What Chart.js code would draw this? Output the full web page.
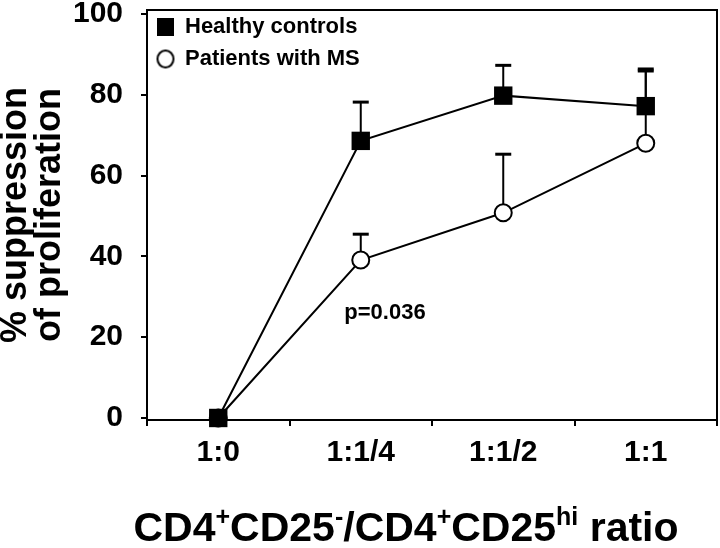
<!DOCTYPE html>
<html>
<head>
<meta charset="utf-8">
<script src="https://cdn.jsdelivr.net/npm/chart.js@4"></script>
<style>
  html, body { margin: 0; padding: 0; background: #fff; }
  #wrap { width: 720px; height: 548px; position: relative; }
</style>
</head>
<body>
<div id="wrap"><canvas id="c" width="720" height="548"></canvas></div>
<script>
// ---- data ----
const categories = ['1:0', '1:1/4', '1:1/2', '1:1'];
const healthy = [0, 68.6, 79.8, 77.2];
const healthyErr = [0, 9.6, 7.5, 9.2];
const ms = [0, 39.1, 50.8, 68.0];
const msErr = [0, 6.4, 14.5, 17.9];
const yTicks = [0, 20, 40, 60, 80, 100];
const seriesNames = ['Healthy controls', 'Patients with MS'];
const pValueText = 'p=0.036';
const xTitleParts = [['CD4', 0], ['+', 1], ['CD25', 0], ['-', 1], ['/CD4', 0], ['+', 1], ['CD25', 0], ['hi', 1], [' ratio', 0]];
const yTitle = ['% suppression', 'of proliferation'];

const FONT = "'Liberation Sans', Arial, Helvetica, sans-serif";

// legend glyph canvases
function makeSquare() {
  const c = document.createElement('canvas'); c.width = 17; c.height = 18;
  const g = c.getContext('2d'); g.fillStyle = '#000'; g.fillRect(0, 0, 17, 18); return c;
}
function makeCircle() {
  const c = document.createElement('canvas'); c.width = 20; c.height = 21;
  const g = c.getContext('2d'); g.beginPath(); g.ellipse(10, 10.5, 8, 8.5, 0, 0, Math.PI * 2);
  g.fillStyle = '#fff'; g.fill(); g.lineWidth = 2; g.strokeStyle = '#000'; g.stroke(); return c;
}
const legendGlyphs = [makeSquare(), makeCircle()];

const errorBars = {
  id: 'errorBars',
  beforeDatasetsDraw(chart) {
    const ctx = chart.ctx, y = chart.scales.y;
    const errs = [healthyErr, msErr];
    ctx.save();
    ctx.strokeStyle = '#000';
    chart.data.datasets.forEach((ds, i) => {
      const meta = chart.getDatasetMeta(i);
      ds.data.forEach((v, j) => {
        const e = errs[i][j];
        if (!e) return;
        const px = meta.data[j].x;
        const y0 = y.getPixelForValue(v), y1 = y.getPixelForValue(v + e);
        ctx.lineWidth = 2;
        ctx.beginPath(); ctx.moveTo(px, y0); ctx.lineTo(px, y1); ctx.stroke();
        ctx.lineWidth = 3;
        ctx.beginPath(); ctx.moveTo(px - 8, y1); ctx.lineTo(px + 8, y1); ctx.stroke();
      });
    });
    ctx.restore();
  }
};

const frameAndText = {
  id: 'frameAndText',
  afterDraw(chart) {
    const ctx = chart.ctx;
    const xs = chart.scales.x, ys = chart.scales.y;
    const top = ys.getPixelForValue(ys.max), bottom = ys.getPixelForValue(ys.min);
    ctx.save();
    ctx.strokeStyle = '#000'; ctx.lineWidth = 2;
    ctx.beginPath();
    ctx.moveTo(xs.left, top); ctx.lineTo(xs.right, top); ctx.lineTo(xs.right, bottom);
    ctx.stroke();
    // p-value annotation
    ctx.fillStyle = '#000';
    ctx.font = 'bold 22px ' + FONT;
    ctx.textAlign = 'center'; ctx.textBaseline = 'alphabetic';
    ctx.fillText(pValueText, xs.getPixelForValue(1.17), ys.getPixelForValue(24.5));
    // x-axis title with superscripts
    const big = 'bold 41px ' + FONT, small = 'bold 25px ' + FONT;
    let total = 0;
    xTitleParts.forEach(([t, s]) => { ctx.font = s ? small : big; total += ctx.measureText(t).width; });
    let x = 406 - total / 2;
    const base = 541;
    ctx.textAlign = 'left';
    xTitleParts.forEach(([t, s]) => {
      ctx.font = s ? small : big;
      ctx.fillText(t, x, s ? base - 16 : base);
      x += ctx.measureText(t).width;
    });
    ctx.restore();
  }
};

new Chart(document.getElementById('c'), {
  type: 'line',
  data: {
    labels: categories,
    datasets: [
      {
        label: seriesNames[0], data: healthy,
        borderColor: '#000', borderWidth: 2, tension: 0,
        pointStyle: 'rect', pointRadius: 13, pointBackgroundColor: '#000',
        pointBorderColor: '#000', pointBorderWidth: 0, clip: false
      },
      {
        label: seriesNames[1], data: ms,
        borderColor: '#000', borderWidth: 2, tension: 0,
        pointStyle: 'circle', pointRadius: 8.5, pointBackgroundColor: '#fff',
        pointBorderColor: '#000', pointBorderWidth: 2, clip: false
      }
    ]
  },
  options: {
    responsive: false,
    animation: false,
    events: [],
    layout: { autoPadding: false, padding: { top: 10, right: 3, left: 0, bottom: 0 } },
    plugins: {
      tooltip: { enabled: false },
      legend: {
        position: 'chartArea',
        fullSize: false,
        align: 'start',
        title: { display: true, text: '', padding: 0, font: { size: 5, lineHeight: 1.2 } },
        labels: {
          usePointStyle: true,
          boxWidth: 17, boxHeight: 17,
          padding: 10,
          color: '#000',
          font: { family: FONT, size: 22, weight: 'bold' },
          generateLabels(chart) {
            return chart.data.datasets.map((ds, i) => ({
              text: ds.label, pointStyle: legendGlyphs[i], fillStyle: '#000',
              strokeStyle: '#000', lineWidth: 0, hidden: false, datasetIndex: i, fontColor: '#000'
            }));
          }
        }
      }
    },
    scales: {
      x: {
        type: 'category',
        offset: true,
        grid: { offset: true, drawOnChartArea: false, color: '#000', lineWidth: 2, tickLength: 6 },
        border: { color: '#000', width: 2 },
        ticks: { color: '#000', padding: 9, font: { family: FONT, size: 30, weight: 'bold' }, maxRotation: 0 },
        afterFit(s) { s.height = 128; s.paddingLeft = 0; s.paddingRight = 0; s.paddingTop = 0; s.paddingBottom = 0; }
      },
      y: {
        min: -0.5, max: 101,
        afterBuildTicks(s) { s.ticks = yTicks.map(v => ({ value: v })); },
        grid: { drawOnChartArea: false, color: '#000', lineWidth: 2, tickLength: 6 },
        border: { color: '#000', width: 2 },
        ticks: { color: '#000', padding: 18, font: { family: FONT, size: 30, weight: 'bold' } },
        title: {
          display: true, text: yTitle, color: '#000',
          font: { family: FONT, size: 36, weight: 'bold', lineHeight: 0.92 },
          padding: { top: 0, bottom: 0 }
        },
        afterFit(s) { s.width = 147; s.paddingLeft = 0; s.paddingRight = 0; s.paddingTop = 0; s.paddingBottom = 0; }
      }
    }
  },
  plugins: [errorBars, frameAndText]
});
</script>
</body>
</html>
